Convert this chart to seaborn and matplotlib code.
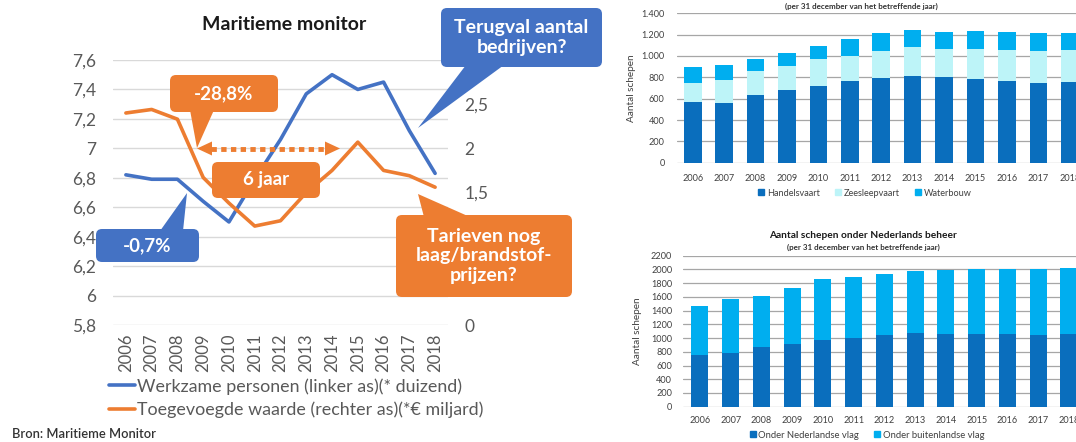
import numpy as np
import pandas as pd
import matplotlib
matplotlib.use("Agg")
import matplotlib.pyplot as plt
import seaborn as sns
from matplotlib.patches import FancyBboxPatch, Polygon
from matplotlib.lines import Line2D
from matplotlib.ticker import FuncFormatter

# ---------------- data ----------------
years = [2006, 2007, 2008, 2009, 2010, 2011, 2012, 2013, 2014, 2015, 2016, 2017, 2018]
year_labels = [str(y) for y in years]

# Maritieme monitor (left panel)
werkzame_personen = [6.82, 6.79, 6.79, 6.64, 6.50, 6.79, 7.06, 7.37, 7.50, 7.40, 7.45, 7.12, 6.83]
toegevoegde_waarde = [2.40, 2.44, 2.33, 1.67, 1.38, 1.12, 1.18, 1.50, 1.75, 2.07, 1.75, 1.69, 1.56]
left_ticks = [5.8, 6.0, 6.2, 6.4, 6.6, 6.8, 7.0, 7.2, 7.4, 7.6]
right_ticks = [0, 1.5, 2.0, 2.5]

# Aantal schepen (top right)
handelsvaart = [566, 556, 631, 681, 716, 762, 791, 816, 800, 781, 762, 750, 753]
zeesleepvaart = [184, 219, 228, 225, 256, 238, 259, 265, 266, 285, 294, 300, 303]
waterbouw = [144, 137, 113, 125, 119, 156, 162, 166, 159, 165, 169, 169, 163]
top_ticks = [0, 200, 400, 600, 800, 1000, 1200, 1400]

# Aantal schepen onder Nederlands beheer (bottom right)
nl_vlag = [753, 777, 869, 908, 971, 1005, 1039, 1078, 1064, 1064, 1059, 1049, 1059]
buitenlandse_vlag = [714, 792, 743, 816, 894, 880, 894, 904, 927, 947, 952, 962, 966]
bottom_ticks = list(range(0, 2201, 200))

# ---------------- style ----------------
BLUE = "#4472C4"
ORANGE = "#ED7D31"
DARK_BLUE = "#0A6EBD"
LIGHT_CYAN = "#BDF4F8"
CYAN = "#00AEEF"
GREY_TXT = "#595959"

sns.set_style("white")
plt.rcParams["font.family"] = ["Lato", "DejaVu Sans"]

W, H = 1076, 442
fig = plt.figure(figsize=(W / 100, H / 100), dpi=100)


def px_axes(x0, y0, x1, y1):
    """Axes from pixel box (top-left origin)."""
    return fig.add_axes([x0 / W, 1 - y1 / H, (x1 - x0) / W, (y1 - y0) / H])


# ---------------- left panel: line chart with two axes ----------------
ax = px_axes(113, 60, 448, 325)
df = pd.DataFrame({"jaar": years, "werk": werkzame_personen, "waarde": toegevoegde_waarde})
sns.lineplot(data=df, x="jaar", y="werk", ax=ax, color=BLUE, linewidth=2.6)
ax.set_xlim(years[0] - 0.5, years[-1] + 0.5)
ax.set_ylim(5.8, 7.6)
ax.set_yticks(left_ticks)
ax.yaxis.set_major_formatter(FuncFormatter(lambda v, p: f"{v:g}".replace(".", ",")))
ax.set_xticks(years)
ax.set_xticklabels(year_labels, rotation=90)
ax.grid(axis="y", color="#D9D9D9", linewidth=1)
ax.set_axisbelow(True)
ax.tick_params(axis="y", length=0, pad=12, labelsize=12.5, labelcolor=GREY_TXT)
ax.tick_params(axis="x", length=0, pad=6, labelsize=12, labelcolor=GREY_TXT)
ax.set_xlabel("")
ax.set_ylabel("")
for s in ax.spines.values():
    s.set_visible(False)

ax2 = ax.twinx()
sns.lineplot(data=df, x="jaar", y="waarde", ax=ax2, color=ORANGE, linewidth=2.6)
ax2.set_ylim(0, 3)
ax2.set_yticks(right_ticks)
ax2.yaxis.set_major_formatter(FuncFormatter(lambda v, p: f"{v:g}".replace(".", ",")))
ax2.tick_params(axis="y", length=0, pad=12, labelsize=12.5, labelcolor=GREY_TXT)
ax2.set_ylabel("")
for s in ax2.spines.values():
    s.set_visible(False)

fig.text(284 / W, 1 - 25 / H, "Maritieme monitor", ha="center", va="center",
         fontsize=14, fontweight="bold", color="#1A1A1A")

handles = [Line2D([], [], color=BLUE, lw=2.6), Line2D([], [], color=ORANGE, lw=2.6)]
fig.legend(handles, ["Werkzame personen (linker as)(* duizend)",
                     "Toegevoegde waarde (rechter as)(*€ miljard)"],
           loc="upper left", bbox_to_anchor=(109 / W, 1 - 378 / H), frameon=False,
           fontsize=12.9, labelcolor=GREY_TXT, handlelength=1.45, handletextpad=0.12,
           labelspacing=0.38, borderaxespad=0, borderpad=0)

fig.text(12 / W, 1 - 434 / H, "Bron: Maritieme Monitor", ha="left", va="center",
         fontsize=9.3, fontweight="semibold", color="#333333")

# ---------------- top right: stacked bars ----------------
axt = px_axes(677, 13.3, W, 162.7)
cum_z = np.array(handelsvaart) + np.array(zeesleepvaart)
cum_w = cum_z + np.array(waterbouw)
for vals, col in [(cum_w, CYAN), (cum_z, LIGHT_CYAN), (handelsvaart, DARK_BLUE)]:
    sns.barplot(x=year_labels, y=list(vals), ax=axt, color=col, saturation=1,
                width=0.56, linewidth=0)
axt.set_xlim(-0.5, 12.2)
axt.set_ylim(0, 1400)
axt.set_yticks(top_ticks)
axt.yaxis.set_major_formatter(FuncFormatter(lambda v, p: f"{int(v):,}".replace(",", ".")))
axt.grid(axis="y", color="#A6A6A6", linewidth=0.9)
axt.set_axisbelow(True)
axt.tick_params(length=0, labelsize=6.6, labelcolor="#404040")
axt.tick_params(axis="y", pad=9)
axt.tick_params(axis="x", pad=8)
axt.set_ylabel("Aantal schepen", fontsize=7.2, color="#404040")
axt.yaxis.set_label_coords((636 - 677) / (W - 677), 0.5)
for s in axt.spines.values():
    s.set_visible(False)
fig.text(861 / W, 1 - 6 / H, "(per 31 december van het betreffende jaar)",
         ha="center", va="center", fontsize=5.8, fontweight="bold", color="#333333")
th = [Line2D([], [], marker="s", ls="", color=c, markersize=4.5)
      for c in (DARK_BLUE, LIGHT_CYAN, CYAN)]
fig.legend(th, ["Handelsvaart", "Zeesleepvaart", "Waterbouw"], loc="center",
           bbox_to_anchor=(864 / W, 1 - 193 / H), ncol=3, frameon=False, fontsize=6.6,
           labelcolor="#404040", handletextpad=0.1, columnspacing=1.5, handlelength=1)

# ---------------- bottom right: stacked bars ----------------
axb = px_axes(683.3, 255.7, W, 406.7)
total = np.array(nl_vlag) + np.array(buitenlandse_vlag)
for vals, col in [(total, CYAN), (nl_vlag, DARK_BLUE)]:
    sns.barplot(x=year_labels, y=list(vals), ax=axb, color=col, saturation=1,
                width=0.55, linewidth=0)
axb.set_xlim(-0.54, 12.23)
axb.set_ylim(0, 2200)
axb.set_yticks(bottom_ticks)
axb.grid(axis="y", color="#A6A6A6", linewidth=0.9)
axb.set_axisbelow(True)
axb.tick_params(length=0, labelsize=6.6, labelcolor="#404040")
axb.tick_params(axis="y", pad=8)
axb.tick_params(axis="x", pad=7)
axb.set_ylabel("Aantal schepen", fontsize=7.2, color="#404040")
axb.yaxis.set_label_coords((642 - 683.3) / (W - 683.3), 0.5)
for s in axb.spines.values():
    s.set_visible(False)
fig.text(863 / W, 1 - 235 / H, "Aantal schepen onder Nederlands beheer",
         ha="center", va="center", fontsize=7.3, fontweight="bold", color="#1A1A1A")
fig.text(863 / W, 1 - 247 / H, "(per 31 december van het betreffende jaar)",
         ha="center", va="center", fontsize=5.8, fontweight="bold", color="#333333")
bh = [Line2D([], [], marker="s", ls="", color=c, markersize=4.5) for c in (DARK_BLUE, CYAN)]
fig.legend(bh, ["Onder Nederlandse vlag", "Onder buitenlandse vlag"], loc="center",
           bbox_to_anchor=(866 / W, 1 - 435 / H), ncol=2, frameon=False, fontsize=6.8,
           labelcolor="#404040", handletextpad=0.1, columnspacing=1.4, handlelength=1)

# ---------------- callouts (pixel overlay) ----------------
ov = fig.add_axes([0, 0, 1, 1], zorder=10)
ov.set_xlim(0, W)
ov.set_ylim(H, 0)
ov.axis("off")
ov.patch.set_alpha(0)


def callout(box, tail, color, text, fs):
    x0, y0, x1, y1 = box
    if tail is not None:
        ov.add_patch(Polygon(tail, closed=True, fc=color, ec="none"))
    ov.add_patch(FancyBboxPatch((x0, y0), x1 - x0, y1 - y0,
                                boxstyle="round,pad=0,rounding_size=6",
                                fc=color, ec="none"))
    ov.text((x0 + x1) / 2, (y0 + y1) / 2, text, ha="center", va="center",
            color="white", fontsize=fs, fontweight="bold", linespacing=1.15)


callout((170, 75, 278, 112), [(190, 110), (214, 110), (197, 148)], ORANGE, "-28,8%", 13.5)
callout((212, 162, 320, 198), None, ORANGE, "6 jaar", 13.5)
callout((96, 229, 199, 262), [(160, 231), (183, 231), (187, 193)], BLUE, "-0,7%", 13.5)
callout((441, 8, 602, 67), [(466, 65), (504, 65), (418, 128)], BLUE,
        "Terugval aantal\nbedrijven?", 14)
callout((396, 215, 572, 297), [(424, 217), (470, 217), (418, 194)], ORANGE,
        "Tarieven nog\nlaag/brandstof-\nprijzen?", 14)

# dotted double arrow between the two callouts
ov.plot([211, 326], [148.5, 148.5], color=ORANGE, lw=3.5, ls=(0, (1.1, 0.9)),
        solid_capstyle="butt", dash_capstyle="butt")
ov.add_patch(Polygon([(197, 148.5), (212, 141.5), (212, 155.5)], fc=ORANGE, ec="none"))
ov.add_patch(Polygon([(340, 148.5), (325, 141.5), (325, 155.5)], fc=ORANGE, ec="none"))

fig.savefig("out.png", dpi=100)
